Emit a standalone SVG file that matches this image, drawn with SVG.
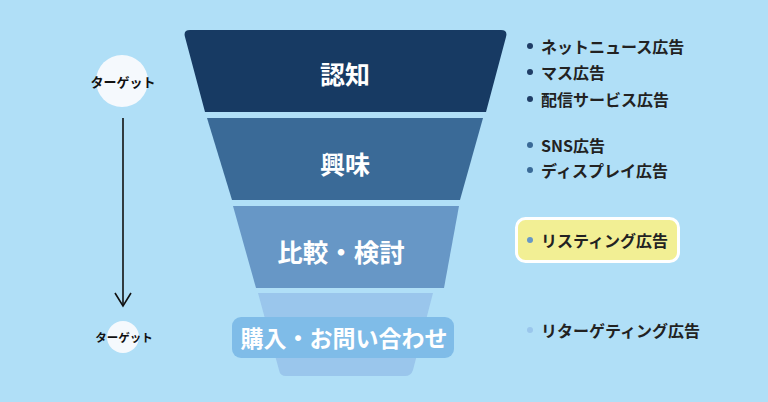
<svg xmlns="http://www.w3.org/2000/svg" width="768" height="402" viewBox="0 0 768 402">
<defs>
<style>
.lbl{font-family:"Noto Sans CJK JP","Noto Sans",sans-serif;font-weight:700;fill:#ffffff;text-anchor:middle;dominant-baseline:central}
.item{font-family:"Noto Sans CJK JP","Noto Sans",sans-serif;font-weight:700;fill:#222222;font-size:16px;dominant-baseline:central}
.tgt{font-family:"Noto Sans CJK JP","Noto Sans",sans-serif;font-weight:700;fill:#111111;text-anchor:middle;dominant-baseline:central}
</style>
</defs>
<rect width="768" height="402" fill="#b0dff7"/>
<g id="stage-awareness">
<path d="M190,30 L501,30 Q508,30 506,37 L486,112 L205,112 L185,37 Q183,30 190,30 Z" fill="#173a63"/>
<text class="lbl" x="345" y="73" font-size="25">認知</text>
</g>
<g id="stage-interest">
<path d="M207,118 L483,118 L460,200 L232,200 Z" fill="#3a6a97"/>
<text class="lbl" x="345" y="163" font-size="25">興味</text>
</g>
<g id="stage-compare">
<path d="M233,206 L459,206 L444,288 L256,288 Z" fill="#6797c6"/>
<text class="lbl" x="341" y="250" font-size="25.5">比較・検討</text>
</g>
<g id="stage-purchase">
<path d="M258,293 L433,293 L413,370 Q411,376 405,376 L286,376 Q280,376 279,370 Z" fill="#9ac6ec"/>
<rect x="232" y="317" width="222" height="41" rx="9" fill="#7fbce8"/>
<text class="lbl" x="344" y="337" font-size="23">購入・お問い合わせ</text>
</g>
<g id="target-top">
<circle cx="122" cy="81" r="26" fill="#f5f9fd"/>
<text class="tgt" x="123" y="81" font-size="13">ターゲット</text>
</g>
<g id="target-bottom">
<circle cx="123" cy="337" r="16" fill="#f5f9fd"/>
<text class="tgt" x="124" y="337" font-size="11.5">ターゲット</text>
</g>
<g id="connectors">
<line x1="123" y1="118" x2="123" y2="305" stroke="#111" stroke-width="1.6"/>
<polyline points="115,293 123,306 131,293" fill="none" stroke="#111" stroke-width="1.6"/>
</g>
<g id="ads-awareness">
<circle cx="530" cy="46" r="3" fill="#1f3d66"/>
<text class="item" x="541" y="46">ネットニュース広告</text>
<circle cx="530" cy="72" r="3" fill="#1f3d66"/>
<text class="item" x="541" y="72">マス広告</text>
<circle cx="530" cy="99" r="3" fill="#1f3d66"/>
<text class="item" x="541" y="99">配信サービス広告</text>
</g>
<g id="ads-interest">
<circle cx="530" cy="145" r="3" fill="#3a6a97"/>
<text class="item" x="541" y="145">SNS広告</text>
<circle cx="530" cy="170" r="3" fill="#3a6a97"/>
<text class="item" x="541" y="170">ディスプレイ広告</text>
</g>
<g id="ads-compare">
<rect x="516.5" y="218.5" width="162" height="43" rx="9" fill="#f2ef94" stroke="#ffffff" stroke-width="3"/>
<circle cx="530" cy="240" r="3" fill="#6797c6"/>
<text class="item" x="541" y="240">リスティング広告</text>
</g>
<g id="ads-purchase">
<circle cx="530" cy="330" r="3" fill="#9ac6ec"/>
<text class="item" x="541" y="330">リターゲティング広告</text>
</g>
</svg>
